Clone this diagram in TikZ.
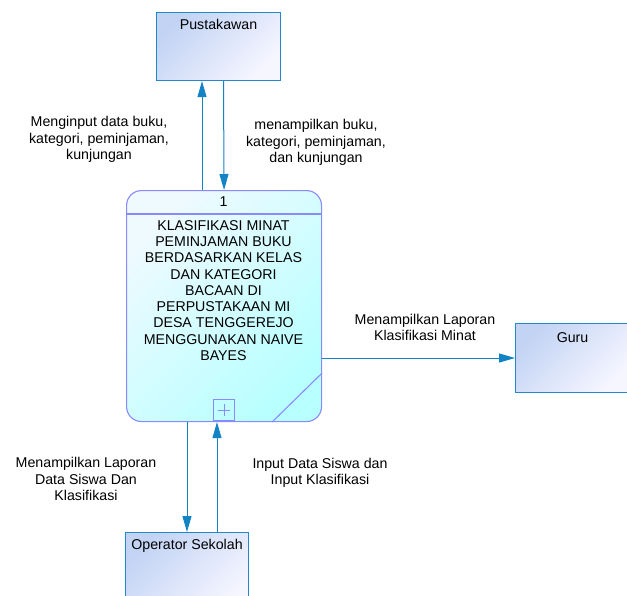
\documentclass[tikz,border=0pt]{standalone}
\usepackage{fontspec}
\setmainfont{Liberation Sans}
\usetikzlibrary{arrows.meta,calc}

\definecolor{flowblue}{RGB}{18,131,196}
\definecolor{entline}{RGB}{36,135,200}
\definecolor{procline}{RGB}{138,138,255}
\definecolor{entdark}{RGB}{194,211,244}
\definecolor{entlight}{RGB}{246,246,255}
\definecolor{proclight}{RGB}{238,250,255}
\definecolor{procdark}{RGB}{184,255,255}

\begin{document}
\begin{tikzpicture}[
  x=1pt, y=-1pt,
  font=\fontsize{14.2}{16.3}\selectfont,
  >={Triangle[length=16pt, width=9pt]},
  entity/.style={draw=entline, line width=1.1pt, inner sep=0pt, anchor=north west,
    top color=entdark, bottom color=entlight, shading angle=45},
  proc/.style={draw=procline, line width=1.1pt, rounded corners=15pt, inner sep=0pt, anchor=north west,
    top color=proclight, bottom color=procdark, shading angle=45},
  flow/.style={->, draw=flowblue, line width=1pt},
  lab/.style={align=center, inner sep=0pt},
  title/.style={anchor=north, inner sep=0pt}
]
\path[use as bounding box] (0,0) rectangle (627,595);

% external entities
\node[entity, minimum width=124pt, minimum height=68pt] (pust) at (156,12) {};
\node[title] (pusttxt) at ($(pust.north)+(0,7)$) {Pustakawan};
\node[entity, minimum width=114pt, minimum height=69pt] (guru) at (515,323) {};
\node[title] (gurutxt) at ($(guru.north)+(0,9)$) {Guru};
\node[entity, minimum width=123pt, minimum height=80pt] (oper) at (125,532) {};
\node[title] (opertxt) at ($(oper.north)+(0,7)$) {Operator Sekolah};

% process
\node[proc, minimum width=195pt, minimum height=231pt] (proc) at (126,190) {};
\draw[procline, line width=1.1pt] (proc.west |- 0,214) -- (proc.east |- 0,214);
\draw[procline, line width=1.1pt] (proc.east |- 0,373) -- (proc.south -| 272,0);
\node[draw=procline, line width=1pt, minimum size=21pt, inner sep=0pt, anchor=south west] (plus) at (213,421) {};
\draw[procline, line width=0.9pt] ($(plus.center)+(-6,0)$) -- ($(plus.center)+(6,0)$)
  ($(plus.center)+(0,-6)$) -- ($(plus.center)+(0,6)$);
\node (pnum) at (223.5,202) {1};
\node[lab, anchor=north] (ptxt) at (223.5,220) {KLASIFIKASI MINAT\\PEMINJAMAN BUKU\\BERDASARKAN KELAS\\DAN KATEGORI\\BACAAN DI\\PERPUSTAKAAN MI\\DESA TENGGEREJO\\MENGGUNAKAN NAIVE\\BAYES};

% data flows
\draw[flow] (proc.north -| 202,0) -- (pust.south -| 202,0);
\draw[flow] (pust.south -| 223.5,0) -- (proc.north);
\draw[flow] (proc.east |- 0,358) -- (guru.west |- 0,358);
\draw[flow] (proc.south -| 187,0) -- (oper.north -| 187,0);
\draw[flow] (oper.north -| 217,0) -- (proc.south -| 217,0);

\node[lab] (l1) at (99,139.5) {Menginput data buku,\\kategori, peminjaman,\\kunjungan};
\node[lab] (l2) at (316,142.5) {menampilkan buku,\\kategori, peminjaman,\\dan kunjungan};
\node[lab] (l3) at (425,327.5) {Menampilkan Laporan\\Klasifikasi Minat};
\node[lab] (l4) at (86,479) {Menampilkan Laporan\\Data Siswa Dan\\Klasifikasi};
\node[lab] (l5) at (320,472.5) {Input Data Siswa dan\\Input Klasifikasi};
\end{tikzpicture}
\end{document}
